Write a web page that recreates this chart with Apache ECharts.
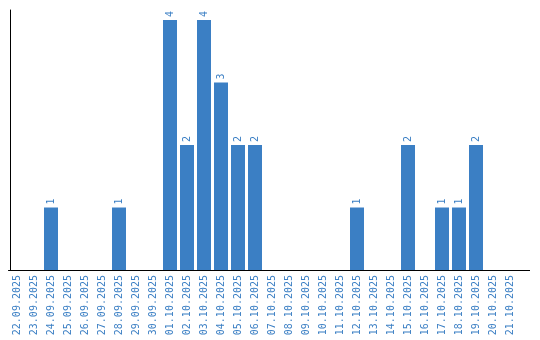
<!DOCTYPE html>
<html><head><meta charset="utf-8">
<script src="https://cdn.jsdelivr.net/npm/echarts@6/dist/echarts.min.js"></script>
<style>html,body{margin:0;padding:0;background:#fff}#c{width:540px;height:340px}</style>
</head><body><div id="c"></div>
<script>
const categories = ["22.09.2025","23.09.2025","24.09.2025","25.09.2025","26.09.2025","27.09.2025","28.09.2025","29.09.2025","30.09.2025","01.10.2025","02.10.2025","03.10.2025","04.10.2025","05.10.2025","06.10.2025","07.10.2025","08.10.2025","09.10.2025","10.10.2025","11.10.2025","12.10.2025","13.10.2025","14.10.2025","15.10.2025","16.10.2025","17.10.2025","18.10.2025","19.10.2025","20.10.2025","21.10.2025"];
const values = [0,0,1,0,0,0,1,0,0,4,2,4,3,2,2,0,0,0,0,0,1,0,0,2,0,1,1,2,0,0];
const blue = '#3b7fc4';
const font = 'DejaVu Sans Mono';
const chart = echarts.init(document.getElementById('c'), null, {renderer:'canvas'});
chart.setOption({
  animation:false,
  grid:{left:8.5, width:510, top:10, bottom:70},
  xAxis:{type:'category', data:categories,
    axisLine:{show:true, lineStyle:{color:'#000', width:1}},
    axisTick:{show:false},
    axisLabel:{rotate:90, interval:0, color:blue, fontFamily:font, fontSize:10, margin:5}
  },
  yAxis:{type:'value', min:0, max:4.16, offset:-1.5,
    axisLine:{show:true, lineStyle:{color:'#000', width:1}},
    axisTick:{show:false}, axisLabel:{show:false}, splitLine:{show:false}
  },
  series:[{type:'bar', data:values.map(v => v === 0 ? null : v), barCategoryGap: 3/17*100 + '%',
    itemStyle:{color:blue},
    label:{show:true, position:'top', rotate:90, align:'left', verticalAlign:'middle', distance:3,
      color:blue, fontFamily:font, fontSize:10}
  }],
  graphic:[{type:'line', shape:{x1:518, y1:270.5, x2:530, y2:270.5}, style:{stroke:'#000', lineWidth:1}}]
});
</script></body></html>
